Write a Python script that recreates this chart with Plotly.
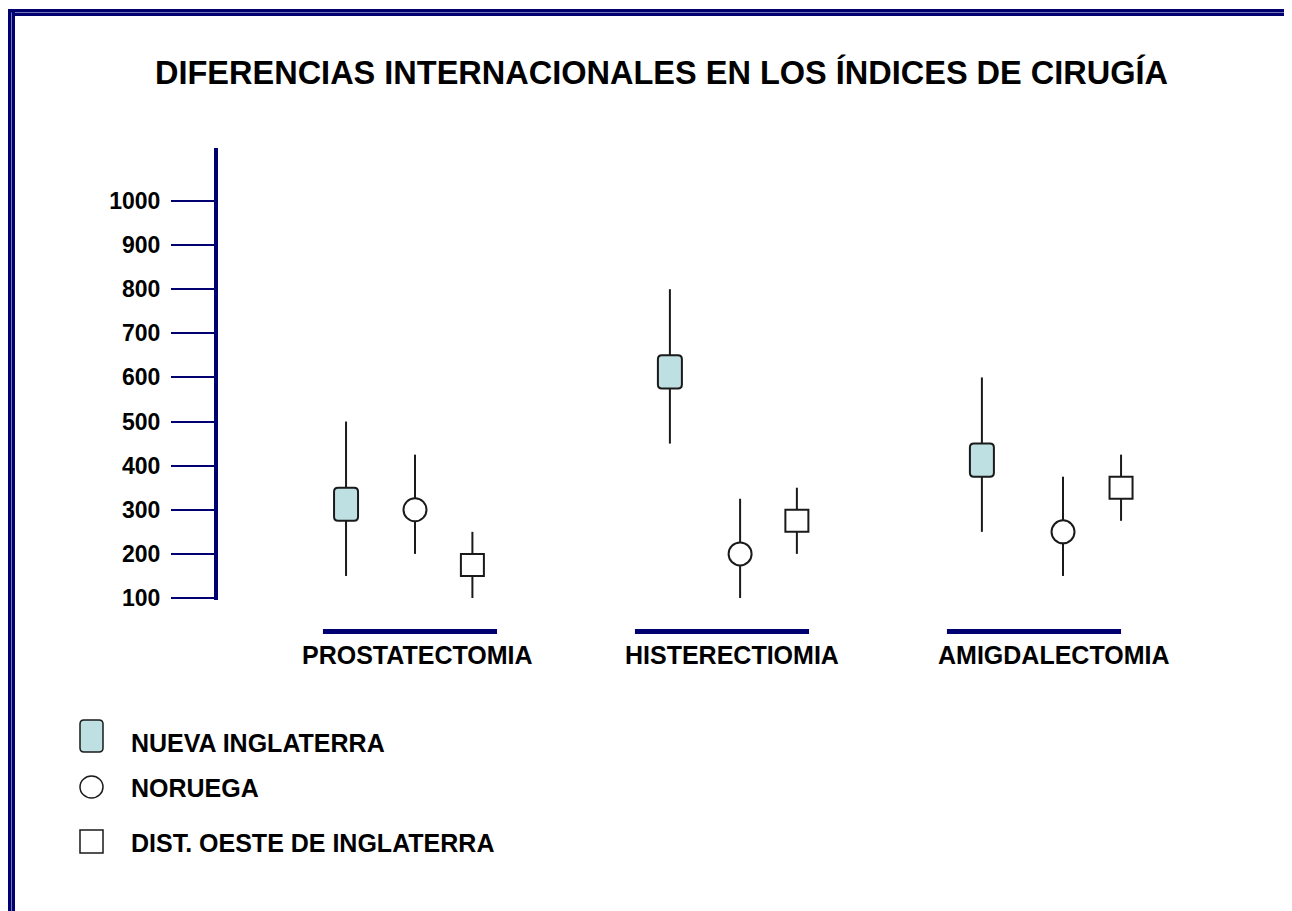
import plotly.graph_objects as go

# the page body adds an 8px margin, so the figure is drawn 8px in from the window edge
W, H = 1292, 911
OFF = 8
FW, FH = W - OFF, H - OFF

procedures = ["PROSTATECTOMIA", "HISTERECTIOMIA", "AMIGDALECTOMIA"]
y_ticks = [100, 200, 300, 400, 500, 600, 700, 800, 900, 1000]
series_names = ["NUEVA INGLATERRA", "NORUEGA", "DIST. OESTE DE INGLATERRA"]

# Nueva Inglaterra: range (whisker) and central box
ni_low = [150, 450, 250]
ni_high = [500, 800, 600]
ni_box_low = [275, 575, 375]
ni_box_high = [350, 650, 450]
ni_offset = [-0.205, -0.167, -0.167]

# Noruega: range and central value
no_low = [200, 100, 150]
no_high = [425, 325, 375]
no_mid = [300, 200, 250]
no_offset = [0.016, 0.058, 0.093]

# Dist. Oeste de Inglaterra: range and central box
do_low = [100, 200, 275]
do_high = [250, 350, 425]
do_box_low = [150, 250, 325]
do_box_high = [200, 300, 375]
do_offset = [0.20, 0.24, 0.279]

NAVY = "#000070"
FILL = "#BEE0E3"
INK = "#1a1a1a"
FONT = "Liberation Sans, Arial, sans-serif"


def px(x):
    return (x - OFF) / FW


def py(y):
    return 1 - (y - OFF) / FH


# axis geometry (window pixels)
axis_x = 218
x_range = [(axis_x - 410) / 312, (W - 410) / 312]
y_range = [95.5, 1120]
y_top_px, y_bot_px = 148, 600
ppu = (y_bot_px - y_top_px) / (y_range[1] - y_range[0])  # pixels per y unit


def rounded_path(x0, x1, y0, y1, rx, ry):
    return (f"M {x0 + rx},{y0} L {x1 - rx},{y0} Q {x1},{y0} {x1},{y0 + ry} "
            f"L {x1},{y1 - ry} Q {x1},{y1} {x1 - rx},{y1} L {x0 + rx},{y1} "
            f"Q {x0},{y1} {x0},{y1 - ry} L {x0},{y0 + ry} Q {x0},{y0} {x0 + rx},{y0} Z")


fig = go.Figure()

# whiskers
wx, wy = [], []
for i in range(len(procedures)):
    for off, lo, hi in [(ni_offset[i], ni_low[i], ni_high[i]),
                        (no_offset[i], no_low[i], no_high[i]),
                        (do_offset[i], do_low[i], do_high[i])]:
        wx += [i + off, i + off, None]
        wy += [lo, hi, None]
fig.add_trace(go.Scatter(x=wx, y=wy, mode="lines", line=dict(color=INK, width=2),
                         hoverinfo="skip", showlegend=False))

# Noruega circles
fig.add_trace(go.Scatter(
    x=[i + o for i, o in enumerate(no_offset)], y=no_mid, mode="markers",
    marker=dict(symbol="circle", size=23, color="white", line=dict(color=INK, width=2)),
    name=series_names[1], showlegend=False))

shapes = []
for i in range(len(procedures)):
    # Nueva Inglaterra rounded box
    shapes.append(dict(
        type="path", xref="x", yref="y", xsizemode="pixel", xanchor=i + ni_offset[i],
        path=rounded_path(-12, 12, ni_box_low[i], ni_box_high[i], 4, 4 / ppu),
        fillcolor=FILL, line=dict(color=INK, width=2), layer="above"))
    # Dist. Oeste box
    shapes.append(dict(
        type="rect", xref="x", yref="y", xsizemode="pixel", xanchor=i + do_offset[i],
        x0=-11.5, x1=11.5, y0=do_box_low[i], y1=do_box_high[i],
        fillcolor="white", line=dict(color=INK, width=2), layer="above"))
    # category underline
    shapes.append(dict(
        type="line", xref="x", yref="paper", x0=i - 0.279, x1=i + 0.279,
        y0=py(631.5), y1=py(631.5), line=dict(color=NAVY, width=5)))

# legend symbols
shapes.append(dict(type="path", xref="paper", yref="paper",
                   path=rounded_path(px(80), px(103), py(752), py(720), 4 / FW, 4 / FH),
                   fillcolor=FILL, line=dict(color=INK, width=1.5)))
shapes.append(dict(type="circle", xref="paper", yref="paper",
                   x0=px(80), x1=px(103), y0=py(798), y1=py(776),
                   fillcolor="white", line=dict(color=INK, width=1.5)))
shapes.append(dict(type="rect", xref="paper", yref="paper",
                   x0=px(80), x1=px(103), y0=py(853), y1=py(830),
                   fillcolor="white", line=dict(color=INK, width=1.5)))

# page frame
shapes += [
    dict(type="rect", xref="paper", yref="paper", x0=px(8), x1=px(1290), y0=py(16), y1=py(9),
         fillcolor=NAVY, line=dict(width=0)),
    dict(type="line", xref="paper", yref="paper", x0=px(8), x1=px(1290), y0=py(12.5), y1=py(12.5),
         line=dict(color="#7777b8", width=1)),
    dict(type="rect", xref="paper", yref="paper", x0=px(8), x1=px(15), y0=py(H + 5), y1=py(9),
         fillcolor=NAVY, line=dict(width=0)),
    dict(type="line", xref="paper", yref="paper", x0=px(11.5), x1=px(11.5), y0=py(H + 5), y1=py(12.5),
         line=dict(color="#7777b8", width=1)),
    dict(type="line", xref="paper", yref="paper", x0=px(1289), x1=px(1289), y0=py(H + 5), y1=py(9),
         line=dict(color=NAVY, width=2)),
]

annotations = [dict(text="DIFERENCIAS INTERNACIONALES EN LOS ÍNDICES DE CIRUGÍA",
                    xref="paper", yref="paper", x=px(661), y=py(73), showarrow=False,
                    xanchor="center", yanchor="middle",
                    font=dict(family=FONT, size=32.5, color="black", weight="bold"))]
label_shift = [7, 10, 19]
for i, name in enumerate(procedures):
    annotations.append(dict(text=name, xref="x", yref="paper", x=i, y=py(655),
                            xshift=label_shift[i], showarrow=False,
                            xanchor="center", yanchor="middle",
                            font=dict(family=FONT, size=25, color="black", weight="bold")))
for name, yc in zip(series_names, [743, 788, 843]):
    annotations.append(dict(text=name, xref="paper", yref="paper", x=px(129), y=py(yc),
                            showarrow=False, xanchor="left", yanchor="middle",
                            font=dict(family=FONT, size=25, color="black", weight="bold")))

fig.update_layout(
    width=FW, height=FH, margin=dict(l=0, r=0, t=0, b=0, autoexpand=False),
    paper_bgcolor="white", plot_bgcolor="white", showlegend=False,
    xaxis=dict(domain=[px(axis_x), 1], range=x_range, visible=False, fixedrange=True,
               automargin=False),
    yaxis=dict(domain=[py(y_bot_px), py(y_top_px)], range=y_range,
               tickvals=y_ticks, ticktext=[str(v) for v in y_ticks],
               ticks="outside", ticklen=43, tickwidth=2, tickcolor=NAVY,
               showline=True, linewidth=4, linecolor=NAVY, showgrid=False, zeroline=False,
               ticklabelstandoff=6, fixedrange=True, automargin=False,
               tickfont=dict(family=FONT, size=23, color="black", weight="bold")),
    shapes=shapes, annotations=annotations,
)

fig.write_html("out.html")
